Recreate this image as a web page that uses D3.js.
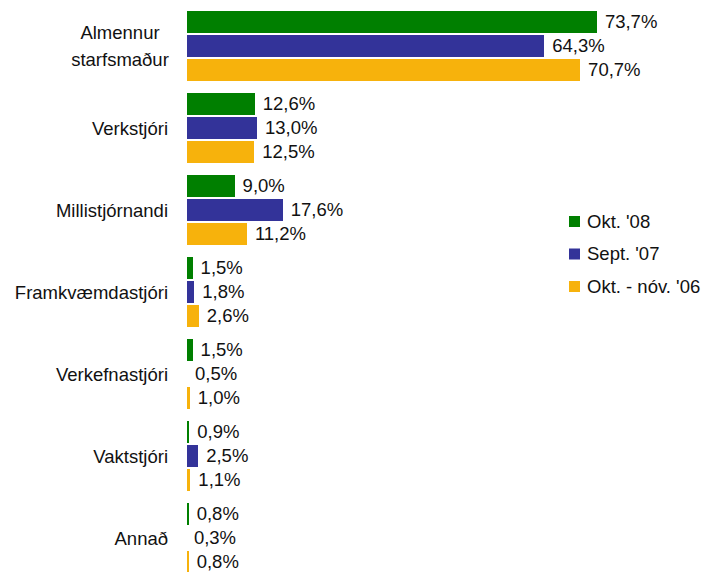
<!DOCTYPE html>
<html>
<head>
<meta charset="utf-8">
<script src="https://cdn.jsdelivr.net/npm/d3@7"></script>
<style>
  body{margin:0;background:#fff;}
  svg text{font-family:"Liberation Sans",Arial,sans-serif;fill:#111;}
</style>
</head>
<body>
<svg id="chart"></svg>
<script>
// ---------- DATA ---------------------------------------------------------
const categories = [
  ['Almennur','starfsmaður'],
  ['Verkstjóri'],
  ['Millistjórnandi'],
  ['Framkvæmdastjóri'],
  ['Verkefnastjóri'],
  ['Vaktstjóri'],
  ['Annað']
];
const seriesNames = ["Okt. '08", "Sept. '07", "Okt. - nóv. '06"];
const okt08  = [73.7, 12.6,  9.0, 1.5, 1.5, 0.9, 0.8];
const sept07 = [64.3, 13.0, 17.6, 1.8, 0.5, 2.5, 0.3];
const okt06  = [70.7, 12.5, 11.2, 2.6, 1.0, 1.1, 0.8];
const seriesValues = [okt08, sept07, okt06];

// ---------- CONSTANTS ----------------------------------------------------
const W = 709, H = 572;
const COLORS = ['#007f00', '#333399', '#f7b20c'];
const PLOT_LEFT = 187;          // left edge of plot area (bars clipped here)
const FS = 18.5;

const svg = d3.select('#chart').attr('width', W).attr('height', H);

const keys = categories.map(c => c.join(' '));
const rows = keys.map((k,i) => ({key:k, lines:categories[i], vals:seriesValues.map(s => s[i])}));

// scales
const x = d3.scaleLinear().domain([0, 80]).range([184.2, 184.2 + 5.6*80]);
const y0 = d3.scaleBand().domain(keys).range([5, 5 + 82*keys.length]).padding(0);
const y1 = d3.scaleBand().domain(d3.range(3)).range([0, 72]).paddingInner(0.125).paddingOuter(0.0625);

const g = svg.append('g');
const grp = g.selectAll('g.grp').data(rows).join('g')
  .attr('class','grp')
  .attr('transform', d => `translate(0,${y0(d.key)+4})`);

// bars
grp.selectAll('rect').data(d => d.vals.map((v,i)=>({v,i}))).join('rect')
  .attr('x', PLOT_LEFT)
  .attr('y', d => y1(d.i))
  .attr('width', d => Math.max(0, Math.round(x(d.v) - PLOT_LEFT)))
  .attr('height', y1.bandwidth()+1)
  .attr('fill', d => COLORS[d.i])
  .attr('shape-rendering', 'crispEdges');

// value labels
grp.selectAll('text.val').data(d => d.vals.map((v,i)=>({v,i}))).join('text')
  .attr('class','val')
  .attr('x', d => x(d.v) + 8)
  .attr('y', d => y1(d.i) + y1.bandwidth()/2 + 0.5)
  .attr('dy','0.36em')
  .attr('font-size', FS)
  .text(d => d3.format('.1f')(d.v).replace('.', ',') + '%');

// category labels
grp.each(function(d){
  const n = d.lines.length;
  const ax = n > 1 ? 120 : 168;
  const t = d3.select(this).append('text')
    .attr('font-size', FS)
    .attr('text-anchor', n > 1 ? 'middle' : 'end');
  d.lines.forEach((ln,j) => {
    t.append('tspan')
      .attr('x', ax)
      .attr('y', 37 + (j - (n-1)/2)*27)
      .attr('dy','0.36em')
      .text(ln);
  });
});

// legend
const legend = svg.append('g').attr('transform','translate(569,221)');
const li = legend.selectAll('g').data(seriesNames).join('g')
  .attr('transform', (d,i) => `translate(0,${i*32.5})`);
li.append('rect').attr('x',0).attr('y',-5).attr('width',11).attr('height',11)
  .attr('fill', (d,i) => COLORS[i]);
li.append('text').attr('x',18).attr('y',0).attr('dy','0.36em')
  .attr('font-size', FS).text(d => d);
</script>
</body>
</html>
